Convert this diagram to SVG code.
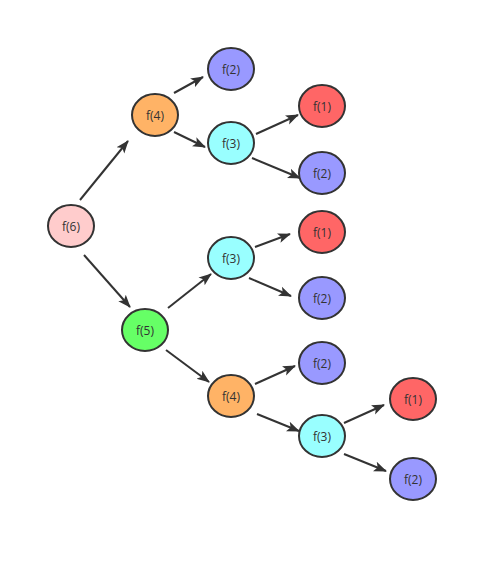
<svg xmlns="http://www.w3.org/2000/svg" width="498" height="562" viewBox="0 0 498 562">
<defs>
<marker id="ah" markerUnits="userSpaceOnUse" markerWidth="14" markerHeight="12" refX="12" refY="5" orient="auto" viewBox="0 0 14 10">
<path d="M0,0 L13,5 L0,10 L3,5 Z" fill="#333"/>
</marker>
<style>
.n ellipse{stroke:#333;stroke-width:2}
.n text{font-family:"Open Sans","DejaVu Sans",sans-serif;font-size:12px;fill:#333;text-anchor:middle;dominant-baseline:central}
#edges line{stroke:#333;stroke-width:2;marker-end:url(#ah)}
.c6{fill:#FFCCCC}.c5{fill:#66FF66}.c4{fill:#FFB366}.c3{fill:#99FFFF}.c2{fill:#9999FF}.c1{fill:#FF6666}
</style>
</defs>
<rect width="498" height="562" fill="#fff"/>
<g id="edges">
<line x1="80" y1="200" x2="128" y2="141"/>
<line x1="84" y1="255" x2="130" y2="307"/>
<line x1="174" y1="93" x2="203" y2="77"/>
<line x1="174" y1="132" x2="205" y2="147"/>
<line x1="256" y1="134" x2="298" y2="115"/>
<line x1="252" y1="158" x2="300" y2="178"/>
<line x1="255" y1="247" x2="290" y2="234"/>
<line x1="249" y1="278" x2="291" y2="296"/>
<line x1="168" y1="308" x2="211" y2="274"/>
<line x1="166" y1="350" x2="209" y2="382"/>
<line x1="255" y1="384" x2="295" y2="366"/>
<line x1="257" y1="414" x2="299" y2="431"/>
<line x1="344" y1="423" x2="384" y2="405"/>
<line x1="344" y1="454" x2="386" y2="471"/>
</g>
<g id="n6" class="n"><ellipse class="c6" cx="71" cy="226" rx="23" ry="21"/><text x="71" y="226">f(6)</text></g>
<g id="n4a" class="n"><ellipse class="c4" cx="155" cy="115" rx="23" ry="21"/><text x="155" y="115">f(4)</text></g>
<g id="n2a" class="n"><ellipse class="c2" cx="231" cy="69" rx="23" ry="21"/><text x="231" y="69">f(2)</text></g>
<g id="n3a" class="n"><ellipse class="c3" cx="231" cy="143" rx="23" ry="21"/><text x="231" y="143">f(3)</text></g>
<g id="n1a" class="n"><ellipse class="c1" cx="322" cy="106" rx="23" ry="21"/><text x="322" y="106">f(1)</text></g>
<g id="n2b" class="n"><ellipse class="c2" cx="322" cy="173" rx="23" ry="21"/><text x="322" y="173">f(2)</text></g>
<g id="n5" class="n"><ellipse class="c5" cx="145" cy="330" rx="23" ry="21"/><text x="145" y="330">f(5)</text></g>
<g id="n3b" class="n"><ellipse class="c3" cx="231" cy="258" rx="23" ry="21"/><text x="231" y="258">f(3)</text></g>
<g id="n1b" class="n"><ellipse class="c1" cx="322" cy="232" rx="23" ry="21"/><text x="322" y="232">f(1)</text></g>
<g id="n2c" class="n"><ellipse class="c2" cx="322" cy="298" rx="23" ry="21"/><text x="322" y="298">f(2)</text></g>
<g id="n4b" class="n"><ellipse class="c4" cx="231" cy="396" rx="23" ry="21"/><text x="231" y="396">f(4)</text></g>
<g id="n2d" class="n"><ellipse class="c2" cx="322" cy="363" rx="23" ry="21"/><text x="322" y="363">f(2)</text></g>
<g id="n3c" class="n"><ellipse class="c3" cx="322" cy="436" rx="23" ry="21"/><text x="322" y="436">f(3)</text></g>
<g id="n1c" class="n"><ellipse class="c1" cx="413" cy="399" rx="23" ry="21"/><text x="413" y="399">f(1)</text></g>
<g id="n2e" class="n"><ellipse class="c2" cx="413" cy="479" rx="23" ry="21"/><text x="413" y="479">f(2)</text></g>
</svg>
